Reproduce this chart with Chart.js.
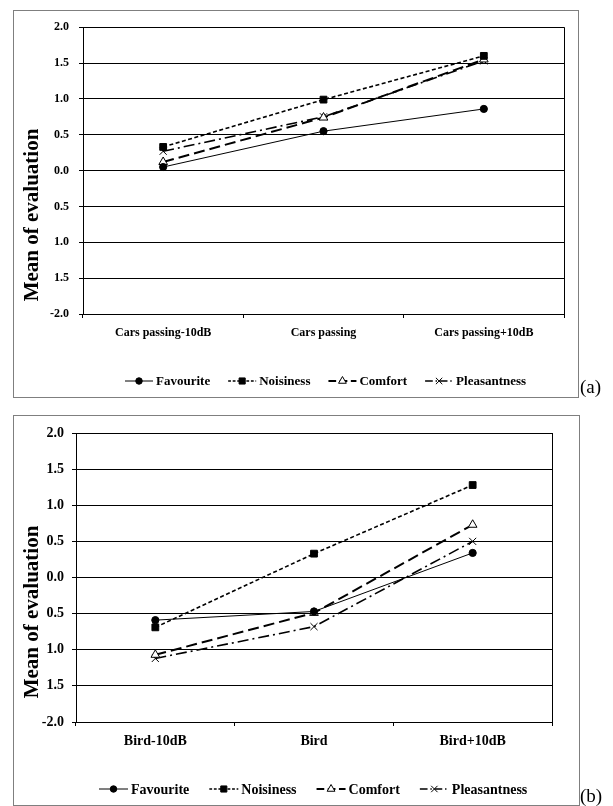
<!DOCTYPE html>
<html><head><meta charset="utf-8">
<script src="https://cdn.jsdelivr.net/npm/chart.js@4.4.1/dist/chart.umd.min.js"></script>
<style>
body{margin:0;background:#fff;width:613px;height:806px;position:relative;overflow:hidden;font-family:"Liberation Serif","Times New Roman",serif}
canvas{position:absolute}
.frame{position:absolute;border:1px solid #7f7f7f;box-sizing:border-box;pointer-events:none}
.tag{position:absolute;font-size:19px;line-height:1;font-family:"Liberation Serif","Times New Roman",serif;color:#000}
</style></head><body>
<canvas id="ca" width="566" height="388" style="left:13px;top:10px"></canvas>
<div class="frame" style="left:13px;top:10px;width:566px;height:388px"></div>
<div class="tag" style="left:580px;top:377px">(a)</div>
<canvas id="cb" width="567" height="391" style="left:13px;top:415px"></canvas>
<div class="frame" style="left:13px;top:415px;width:567px;height:391px"></div>
<div class="tag" style="left:580px;top:786px">(b)</div>
<script>
const categoriesA = ['Cars passing-10dB', 'Cars passing', 'Cars passing+10dB'];
const categoriesB = ['Bird-10dB', 'Bird', 'Bird+10dB'];
const seriesNames = ['Favourite', 'Noisiness', 'Comfort', 'Pleasantness'];
const favouriteA = [0.05, 0.55, 0.86];
const noisinessA = [0.33, 0.99, 1.60];
const comfortA = [0.12, 0.74, 1.55];
const pleasantnessA = [0.27, 0.75, 1.53];
const favouriteB = [-0.59, -0.47, 0.34];
const noisinessB = [-0.69, 0.33, 1.28];
const comfortB = [-1.07, -0.49, 0.73];
const pleasantnessB = [-1.12, -0.68, 0.50];
const yTickLabels = ['-2.0', '1.5', '1.0', '0.5', '0.0', '0.5', '1.0', '1.5', '2.0'];
const yTitle = 'Mean of evaluation';

const FONT = '"Liberation Serif", "Times New Roman", serif';
const seriesStyles = [
  {dash: [], width: 1, pointStyle: 'circle', radius: 3.6, fill: '#000'},
  {dash: [4, 2.5], width: 1.6, pointStyle: 'rect', radius: 4.8, fill: '#000'},
  {dash: [11, 5], width: 2, pointStyle: 'triangle', radius: 5, fill: '#fff'},
  {dash: [11, 4, 2, 4], width: 1.6, pointStyle: 'crossRot', radius: 5, fill: '#fff'}
];

function makeChart(id, cats, seriesData, g) {
  const canvas = document.getElementById(id);
  const W = canvas.width, H = canvas.height;
  const datasets = seriesData.map((d, i) => {
    const s = seriesStyles[i];
    return {
      label: seriesNames[i], data: d,
      borderColor: '#000', borderWidth: s.width, borderDash: s.dash,
      pointStyle: s.pointStyle, pointRadius: s.radius, pointBorderWidth: 1,
      pointBackgroundColor: s.fill, pointBorderColor: '#000',
      tension: 0, fill: false
    };
  });
  const extras = {
    id: 'extras',
    afterDatasetsDraw(chart) {
      const ctx = chart.ctx, a = chart.chartArea;
      ctx.save();
      ctx.strokeStyle = '#000'; ctx.lineWidth = 1; ctx.setLineDash([]);
      ctx.beginPath(); ctx.moveTo(Math.round(a.right) + 0.5, a.top); ctx.lineTo(Math.round(a.right) + 0.5, a.bottom); ctx.stroke();
      ctx.restore();
    },
    afterDraw(chart) {
      const ctx = chart.ctx;
      ctx.save();
      ctx.translate(g.titleX, g.titleY);
      ctx.rotate(-Math.PI / 2);
      ctx.font = 'bold ' + g.titleSize + 'px ' + FONT;
      ctx.fillStyle = '#000'; ctx.textAlign = 'center'; ctx.textBaseline = 'middle';
      ctx.fillText(yTitle, 0, 0);
      ctx.restore();
      ctx.save();
      ctx.font = 'bold ' + g.legSize + 'px ' + FONT;
      ctx.textBaseline = 'middle'; ctx.textAlign = 'left';
      let x = g.legX; const y = g.legY;
      chart.data.datasets.forEach((ds, i) => {
        const s = seriesStyles[i];
        ctx.strokeStyle = '#000'; ctx.lineWidth = s.width; ctx.setLineDash(s.dash.map(v => v * 0.7));
        ctx.beginPath(); ctx.moveTo(x, y); ctx.lineTo(x + g.legLine, y); ctx.stroke();
        ctx.setLineDash([]); ctx.lineWidth = 1; ctx.fillStyle = s.fill;
        Chart.helpers.drawPoint(ctx, {pointStyle: s.pointStyle, radius: s.radius * 0.9, rotation: 0, borderWidth: 1}, x + g.legLine / 2, y);
        ctx.fillStyle = '#000';
        ctx.fillText(ds.label, x + g.legLine + 3, y + 1);
        x += g.legLine + 3 + ctx.measureText(ds.label).width + g.legGap;
      });
      ctx.restore();
    }
  };
  return new Chart(canvas, {
    type: 'line',
    data: {labels: cats, datasets},
    options: {
      responsive: false, animation: false, devicePixelRatio: 1,
      layout: {padding: {top: g.top, right: W - g.right, left: 0, bottom: 0}},
      plugins: {legend: {display: false}, tooltip: {enabled: false}},
      scales: {
        x: {
          type: 'category', offset: true,
          afterFit(s) { s.height = H - g.bottom; },
          grid: {display: true, drawOnChartArea: false, drawTicks: true, tickLength: 4, offset: true, color: '#000', lineWidth: 1},
          border: {display: true, color: '#000', width: 1},
          ticks: {color: '#000', padding: g.xPad, font: {family: FONT, size: g.xSize, weight: 'bold'}, maxRotation: 0, autoSkip: false}
        },
        y: {
          min: -2, max: 2,
          afterFit(s) { s.width = g.left; },
          grid: {color: '#000', lineWidth: 1, drawTicks: true, tickLength: 4},
          border: {display: true, color: '#000', width: 1},
          ticks: {stepSize: 0.5, color: '#000', padding: g.yPad, font: {family: FONT, size: g.ySize, weight: 'bold'},
            callback: (v, i) => yTickLabels[i]}
        }
      }
    },
    plugins: [extras]
  });
}

makeChart('ca', categoriesA, [favouriteA, noisinessA, comfortA, pleasantnessA],
  {left: 70, top: 11, right: 551, bottom: 304, xPad: 8, xSize: 12, ySize: 12, yPad: 10,
   titleX: 20, titleY: 205, titleSize: 21, legX: 112, legY: 371, legSize: 13, legLine: 28, legGap: 18});
makeChart('cb', categoriesB, [favouriteB, noisinessB, comfortB, pleasantnessB],
  {left: 63, top: 18, right: 539, bottom: 307, xPad: 7, xSize: 14, ySize: 14, yPad: 8,
   titleX: 20, titleY: 197, titleSize: 21, legX: 86, legY: 374, legSize: 14, legLine: 29, legGap: 20});
</script>
</body></html>
